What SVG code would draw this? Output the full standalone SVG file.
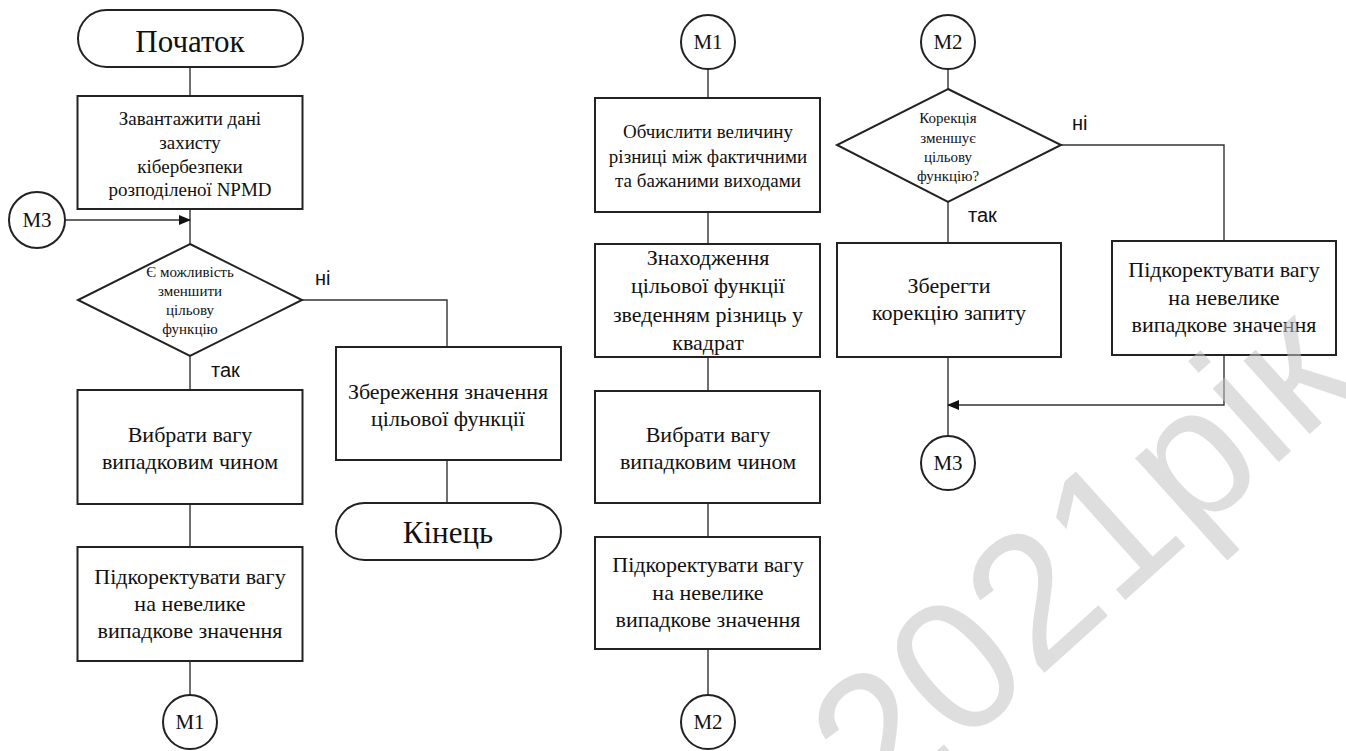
<svg xmlns="http://www.w3.org/2000/svg" width="1346" height="751" viewBox="0 0 1346 751">
<style>
.box{fill:#fff;stroke:#222;stroke-width:2}
.ln{fill:none;stroke:#333;stroke-width:1.4}
.t{font-family:"Liberation Serif","Times New Roman",serif;fill:#111;text-anchor:middle}
.s19{font-size:19px}
.s22{font-size:22px}
.s15{font-size:15px}
.s31{font-size:31px}
.m{font-size:21px}
.lbl{font-family:"Liberation Sans",Arial,sans-serif;font-size:20px;fill:#111}
.wm{font-family:"Liberation Sans",Arial,sans-serif;font-size:187px;fill:#c4c4c4;opacity:0.55}
</style>
<defs>
<marker id="ah" markerWidth="12" markerHeight="10" refX="11" refY="5" orient="auto" markerUnits="userSpaceOnUse">
<path d="M0,0 L12,5 L0,10 Z" fill="#111"/>
</marker>
</defs>
<rect width="1346" height="751" fill="#fff"/>

<g id="connectors">
<path class="ln" d="M190,67 V96"/>
<path class="ln" d="M190,209 V244"/>
<path class="ln" d="M65,220 H190" marker-end="url(#ah)"/>
<path class="ln" d="M302,300 H447 V347"/>
<path class="ln" d="M190,356 V390"/>
<path class="ln" d="M190,504 V547"/>
<path class="ln" d="M190,661 V695"/>
<path class="ln" d="M447,460 V503"/>
<path class="ln" d="M708,69 V98"/>
<path class="ln" d="M708,212 V244"/>
<path class="ln" d="M708,357 V391"/>
<path class="ln" d="M708,503 V537"/>
<path class="ln" d="M708,649 V695"/>
<path class="ln" d="M948,69 V89"/>
<path class="ln" d="M1061,145 H1224 V241"/>
<path class="ln" d="M948,202 V243"/>
<path class="ln" d="M948,357 V436"/>
<path class="ln" d="M1224,355 V405 H948" marker-end="url(#ah)"/>
</g>

<g id="start">
<rect class="box" x="78" y="10" width="225" height="57" rx="28.5"/>
<text class="t s31" x="190" y="52">Початок</text>
</g>
<g id="load">
<rect class="box" x="77.5" y="96" width="225" height="113"/>
<text class="t s19" x="190" y="125">Завантажити дані</text>
<text class="t s19" x="190" y="149">захисту</text>
<text class="t s19" x="190" y="173">кібербезпеки</text>
<text class="t s19" x="190" y="196">розподіленої NPMD</text>
</g>
<g id="m3-left">
<circle class="box" cx="37" cy="220" r="28"/>
<text class="t m" x="37" y="227">М3</text>
</g>
<g id="dec1">
<polygon class="box" points="190,244 302,300 190,356 78,300"/>
<text class="t s15" x="190" y="277">Є можливість</text>
<text class="t s15" x="190" y="296">зменшити</text>
<text class="t s15" x="190" y="315">цільову</text>
<text class="t s15" x="190" y="334">функцію</text>
<text class="lbl" x="315" y="285">ні</text>
<text class="lbl" x="211" y="377">так</text>
</g>
<g id="pick1">
<rect class="box" x="77.5" y="390" width="225" height="114"/>
<text class="t s22" x="190" y="442">Вибрати вагу</text>
<text class="t s22" x="190" y="469">випадковим чином</text>
</g>
<g id="adj1">
<rect class="box" x="77.5" y="547" width="225" height="114"/>
<text class="t s22" x="190" y="584">Підкоректувати вагу</text>
<text class="t s22" x="190" y="611">на невелике</text>
<text class="t s22" x="190" y="638">випадкове значення</text>
</g>
<g id="m1-left">
<circle class="box" cx="190" cy="722" r="27"/>
<text class="t m" x="190" y="729">М1</text>
</g>
<g id="save">
<rect class="box" x="336" y="347" width="225" height="113"/>
<text class="t s22" x="448" y="399">Збереження значення</text>
<text class="t s22" x="448" y="426">цільової функції</text>
</g>
<g id="end">
<rect class="box" x="336" y="503" width="225" height="57" rx="28.5"/>
<text class="t s31" x="448" y="543">Кінець</text>
</g>

<g id="m1-mid">
<circle class="box" cx="708" cy="42" r="27"/>
<text class="t m" x="708" y="49">М1</text>
</g>
<g id="calc">
<rect class="box" x="595" y="98" width="225" height="114"/>
<text class="t s19" x="708" y="138">Обчислити величину</text>
<text class="t s19" x="708" y="163">різниці між фактичними</text>
<text class="t s19" x="708" y="187">та бажаними виходами</text>
</g>
<g id="target">
<rect class="box" x="595" y="244" width="225" height="113"/>
<text class="t s22" x="708" y="265">Знаходження</text>
<text class="t s22" x="708" y="293">цільової функції</text>
<text class="t s22" x="708" y="322">зведенням різниць у</text>
<text class="t s22" x="708" y="350">квадрат</text>
</g>
<g id="pick2">
<rect class="box" x="595" y="391" width="225" height="112"/>
<text class="t s22" x="708" y="442">Вибрати вагу</text>
<text class="t s22" x="708" y="469">випадковим чином</text>
</g>
<g id="adj2">
<rect class="box" x="595" y="537" width="225" height="112"/>
<text class="t s22" x="708" y="572">Підкоректувати вагу</text>
<text class="t s22" x="708" y="600">на невелике</text>
<text class="t s22" x="708" y="627">випадкове значення</text>
</g>
<g id="m2-mid">
<circle class="box" cx="708" cy="722" r="27"/>
<text class="t m" x="708" y="729">М2</text>
</g>

<g id="m2-right">
<circle class="box" cx="948" cy="42" r="27"/>
<text class="t m" x="948" y="49">М2</text>
</g>
<g id="dec2">
<polygon class="box" points="948,89 1061,145 948,202 837,145"/>
<text class="t s15" x="948" y="123">Корекція</text>
<text class="t s15" x="948" y="143">зменшує</text>
<text class="t s15" x="948" y="162">цільову</text>
<text class="t s15" x="948" y="181">функцію?</text>
<text class="lbl" x="1072" y="130">ні</text>
<text class="lbl" x="968" y="222">так</text>
</g>
<g id="keep">
<rect class="box" x="837" y="243" width="224" height="114"/>
<text class="t s22" x="949" y="293">Зберегти</text>
<text class="t s22" x="949" y="320">корекцію запиту</text>
</g>
<g id="adj3">
<rect class="box" x="1112" y="241" width="224" height="114"/>
<text class="t s22" x="1224" y="277">Підкоректувати вагу</text>
<text class="t s22" x="1224" y="305">на невелике</text>
<text class="t s22" x="1224" y="332">випадкове значення</text>
</g>
<g id="m3-right">
<circle class="box" cx="948" cy="463" r="27"/>
<text class="t m" x="948" y="470">М3</text>
</g>

<text class="wm" text-anchor="middle" transform="translate(1122,603) rotate(-42)" x="0" y="0">2021рік</text>
</svg>
